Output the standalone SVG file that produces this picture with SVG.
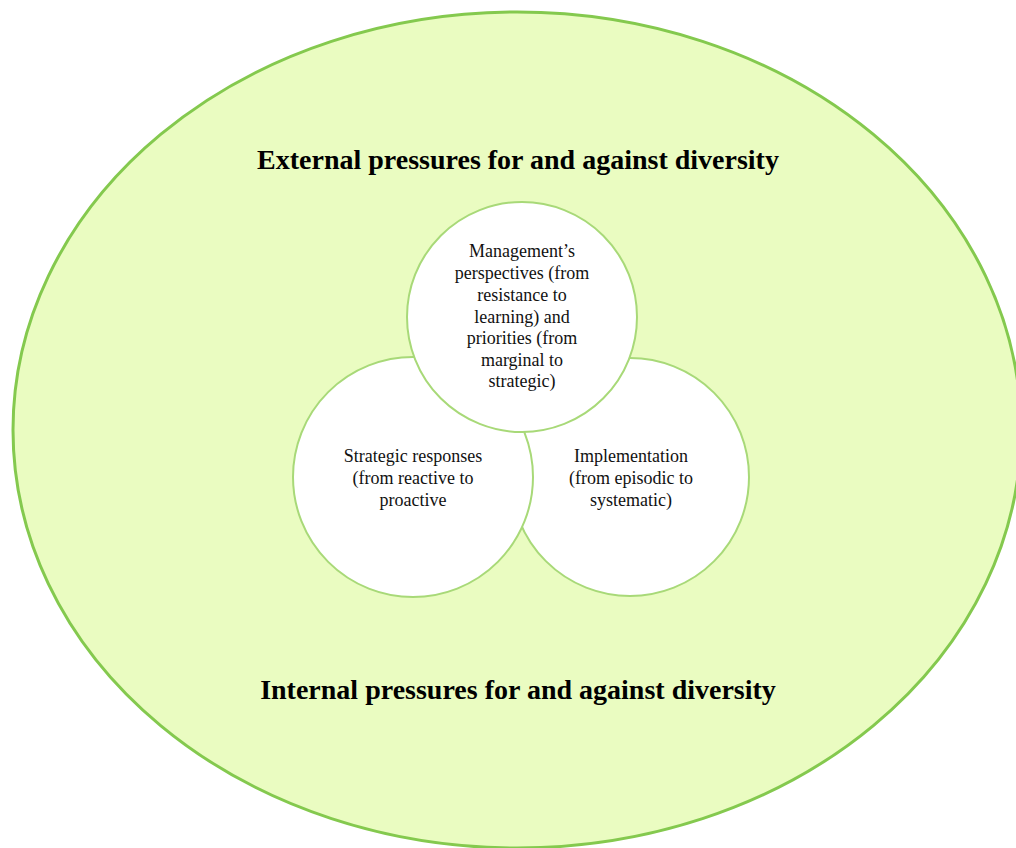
<svg xmlns="http://www.w3.org/2000/svg" width="1016" height="848" viewBox="0 0 1016 848">
  <style>
    .outer { fill: #eafcc1; stroke: #84c94e; stroke-width: 3; }
    .ring { fill: #ffffff; stroke: #a8d978; stroke-width: 2; }
    .title { font-family: "Liberation Serif", "Times New Roman", serif; font-weight: bold; font-size: 28px; fill: #000000; text-anchor: middle; }
    .label { font-family: "Liberation Serif", "Times New Roman", serif; font-size: 18px; fill: #111111; text-anchor: middle; }
  </style>
  <rect width="1016" height="848" fill="#ffffff"/>

  <!-- Outer context: pressures for and against diversity -->
  <g id="context">
    <ellipse class="outer" cx="517" cy="430" rx="504" ry="418"/>
    <text class="title" x="518" y="169">External pressures for and against diversity</text>
    <text class="title" x="518" y="699">Internal pressures for and against diversity</text>
  </g>

  <!-- Connectors (none: the circles overlap directly) -->
  <g id="connectors"/>

  <!-- Implementation circle (drawn first, lies beneath the others) -->
  <g id="implementation">
    <circle class="ring" cx="630" cy="477" r="119"/>
    <text class="label" x="631" y="462">Implementation</text>
    <text class="label" x="631" y="484">(from episodic to</text>
    <text class="label" x="631" y="506">systematic)</text>
  </g>

  <!-- Strategic responses circle -->
  <g id="strategic-responses">
    <circle class="ring" cx="413" cy="477" r="120"/>
    <text class="label" x="413" y="462">Strategic responses</text>
    <text class="label" x="413" y="484">(from reactive to</text>
    <text class="label" x="413" y="506">proactive</text>
  </g>

  <!-- Management perspectives circle (on top) -->
  <g id="management-perspectives">
    <circle class="ring" cx="522" cy="317" r="115"/>
    <text class="label" x="522" y="257">Management’s</text>
    <text class="label" x="522" y="279">perspectives (from</text>
    <text class="label" x="522" y="301">resistance to</text>
    <text class="label" x="522" y="323">learning) and</text>
    <text class="label" x="522" y="344">priorities (from</text>
    <text class="label" x="522" y="366">marginal to</text>
    <text class="label" x="522" y="387">strategic)</text>
  </g>
</svg>
